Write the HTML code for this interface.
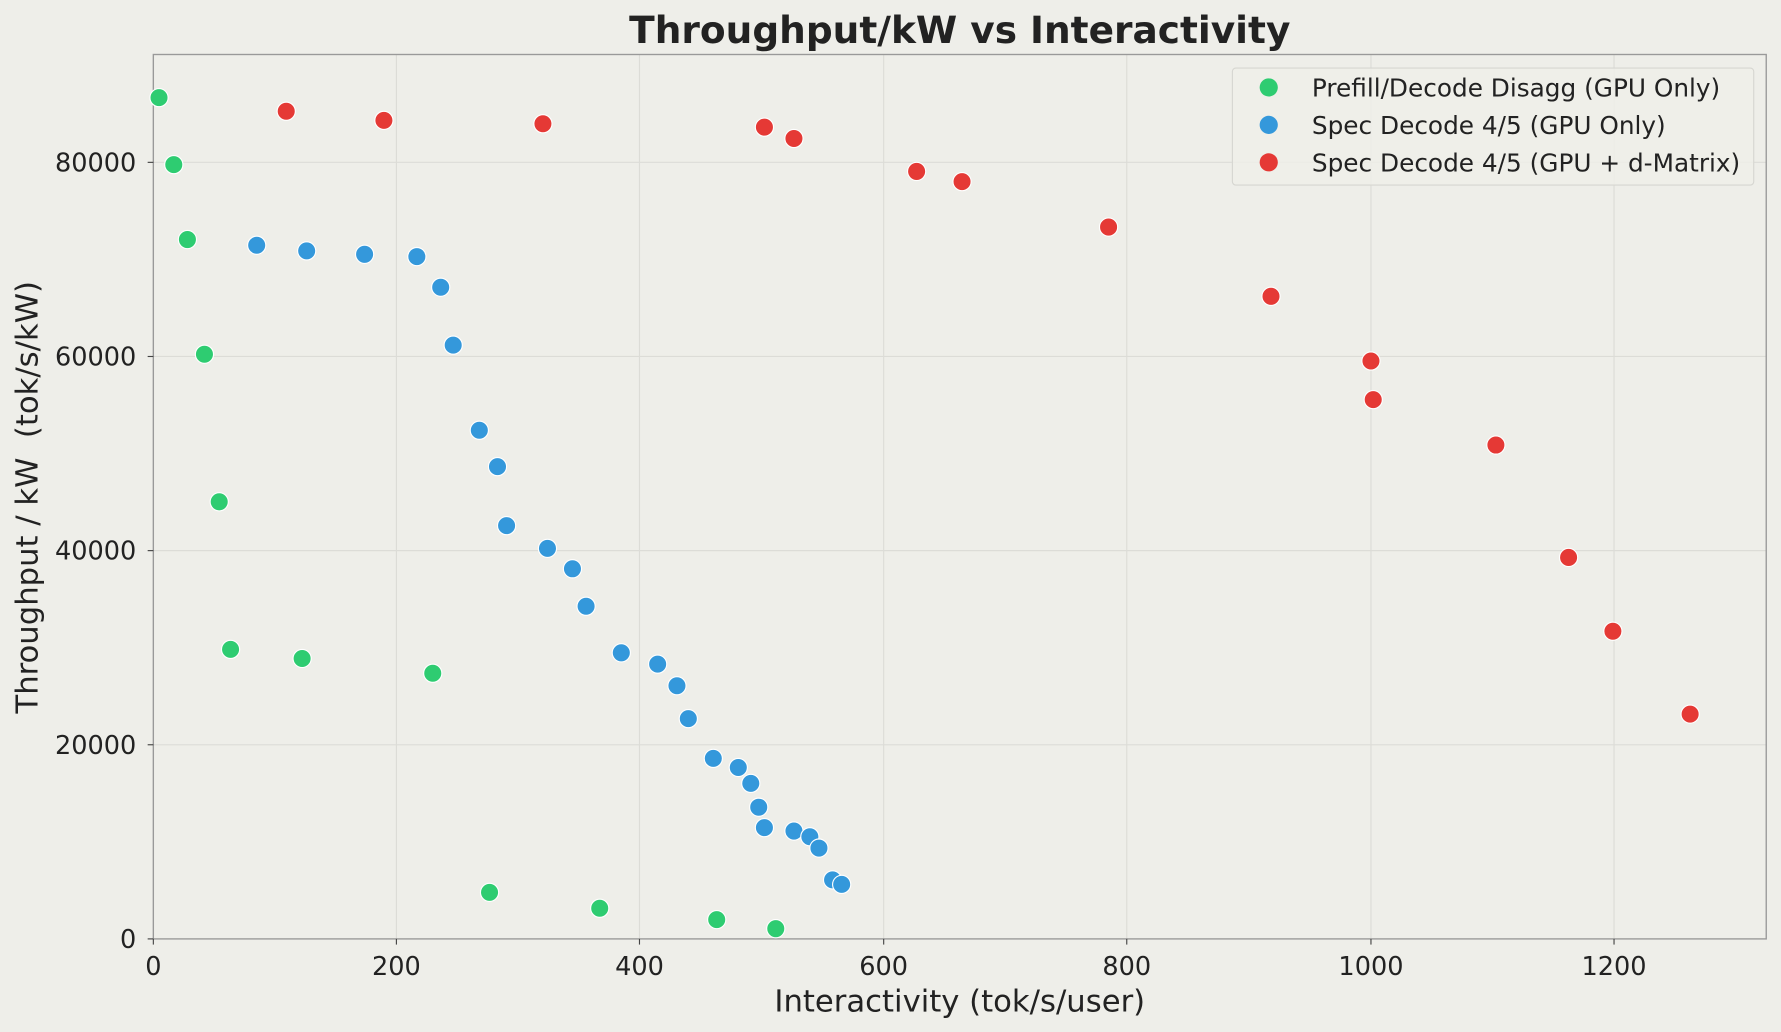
<!DOCTYPE html>
<html><head><meta charset="utf-8"><style>
html,body{margin:0;padding:0;background:#eeeee9;}
svg{display:block;}
text{font-family:"DejaVu Sans","Liberation Sans",sans-serif;fill:#222;}
</style></head><body>
<svg width="1781" height="1032" viewBox="0 0 1568 909" preserveAspectRatio="none" xmlns="http://www.w3.org/2000/svg">
<rect width="1568" height="909" fill="#eeeee9"/>
<g stroke="#dcdcd7" stroke-width="1">
<line x1="349" y1="48" x2="349" y2="827"/><line x1="563" y1="48" x2="563" y2="827"/><line x1="778" y1="48" x2="778" y2="827"/><line x1="992" y1="48" x2="992" y2="827"/><line x1="1207" y1="48" x2="1207" y2="827"/><line x1="1421" y1="48" x2="1421" y2="827"/>
<line x1="135" y1="656" x2="1555" y2="656"/><line x1="135" y1="485" x2="1555" y2="485"/><line x1="135" y1="314" x2="1555" y2="314"/><line x1="135" y1="143" x2="1555" y2="143"/>
</g>
<rect x="135" y="48" width="1420" height="779" fill="none" stroke="#999" stroke-width="1.2"/>
<g stroke="#444" stroke-width="1">
<line x1="135" y1="827" x2="135" y2="832"/><line x1="349" y1="827" x2="349" y2="832"/><line x1="563" y1="827" x2="563" y2="832"/><line x1="778" y1="827" x2="778" y2="832"/><line x1="992" y1="827" x2="992" y2="832"/><line x1="1207" y1="827" x2="1207" y2="832"/><line x1="1421" y1="827" x2="1421" y2="832"/>
<line x1="130" y1="827" x2="135" y2="827"/><line x1="130" y1="656" x2="135" y2="656"/><line x1="130" y1="485" x2="135" y2="485"/><line x1="130" y1="314" x2="135" y2="314"/><line x1="130" y1="143" x2="135" y2="143"/>
</g>
<g font-size="22.5" text-anchor="middle">
<text x="135" y="859">0</text><text x="349" y="859">200</text><text x="563" y="859">400</text><text x="778" y="859">600</text><text x="992" y="859">800</text><text x="1207" y="859">1000</text><text x="1421" y="859">1200</text>
</g>
<g font-size="22.5" text-anchor="end">
<text x="120" y="835">0</text><text x="120" y="664">20000</text><text x="120" y="493">40000</text><text x="120" y="322">60000</text><text x="120" y="151">80000</text>
</g>
<text x="845" y="891" font-size="27" text-anchor="middle">Interactivity (tok/s/user)</text>
<text transform="translate(33,438) rotate(-90)" font-size="27" text-anchor="middle" xml:space="preserve">Throughput / kW  (tok/s/kW)</text>
<text x="845" y="38" font-size="33" font-weight="bold" text-anchor="middle">Throughput/kW vs Interactivity</text>
<g stroke="#fff" stroke-width="1">
<g fill="#2ecc71">
<circle cx="140" cy="86" r="8"/><circle cx="153" cy="145" r="8"/><circle cx="165" cy="211" r="8"/><circle cx="180" cy="312" r="8"/><circle cx="193" cy="442" r="8"/><circle cx="203" cy="572" r="8"/><circle cx="266" cy="580" r="8"/><circle cx="381" cy="593" r="8"/><circle cx="431" cy="786" r="8"/><circle cx="528" cy="800" r="8"/><circle cx="631" cy="810" r="8"/><circle cx="683" cy="818" r="8"/>
</g>
<g fill="#3498db">
<circle cx="226" cy="216" r="8"/><circle cx="270" cy="221" r="8"/><circle cx="321" cy="224" r="8"/><circle cx="367" cy="226" r="8"/><circle cx="388" cy="253" r="8"/><circle cx="399" cy="304" r="8"/><circle cx="422" cy="379" r="8"/><circle cx="438" cy="411" r="8"/><circle cx="446" cy="463" r="8"/><circle cx="482" cy="483" r="8"/><circle cx="504" cy="501" r="8"/><circle cx="516" cy="534" r="8"/><circle cx="547" cy="575" r="8"/><circle cx="579" cy="585" r="8"/><circle cx="596" cy="604" r="8"/><circle cx="606" cy="633" r="8"/><circle cx="628" cy="668" r="8"/><circle cx="650" cy="676" r="8"/><circle cx="661" cy="690" r="8"/><circle cx="668" cy="711" r="8"/><circle cx="673" cy="729" r="8"/><circle cx="699" cy="732" r="8"/><circle cx="713" cy="737" r="8"/><circle cx="721" cy="747" r="8"/><circle cx="733" cy="775" r="8"/><circle cx="741" cy="779" r="8"/>
</g>
<g fill="#e53935">
<circle cx="252" cy="98" r="8"/><circle cx="338" cy="106" r="8"/><circle cx="478" cy="109" r="8"/><circle cx="673" cy="112" r="8"/><circle cx="699" cy="122" r="8"/><circle cx="807" cy="151" r="8"/><circle cx="847" cy="160" r="8"/><circle cx="976" cy="200" r="8"/><circle cx="1119" cy="261" r="8"/><circle cx="1207" cy="318" r="8"/><circle cx="1209" cy="352" r="8"/><circle cx="1317" cy="392" r="8"/><circle cx="1381" cy="491" r="8"/><circle cx="1420" cy="556" r="8"/><circle cx="1488" cy="629" r="8"/>
</g>
</g>
<rect x="1085" y="60" width="459" height="103" rx="3" fill="#eeeee9" fill-opacity="0.85" stroke="#d6d6d1" stroke-width="1"/>
<circle cx="1117" cy="77" r="8" fill="#2ecc71"/><circle cx="1117" cy="110" r="8" fill="#3498db"/><circle cx="1117" cy="143" r="8" fill="#e53935"/>
<g font-size="21.8"><text x="1155" y="85">Prefill/Decode Disagg (GPU Only)</text><text x="1155" y="118">Spec Decode 4/5 (GPU Only)</text><text x="1155" y="151">Spec Decode 4/5 (GPU + d-Matrix)</text></g>
</svg>
</body></html>
